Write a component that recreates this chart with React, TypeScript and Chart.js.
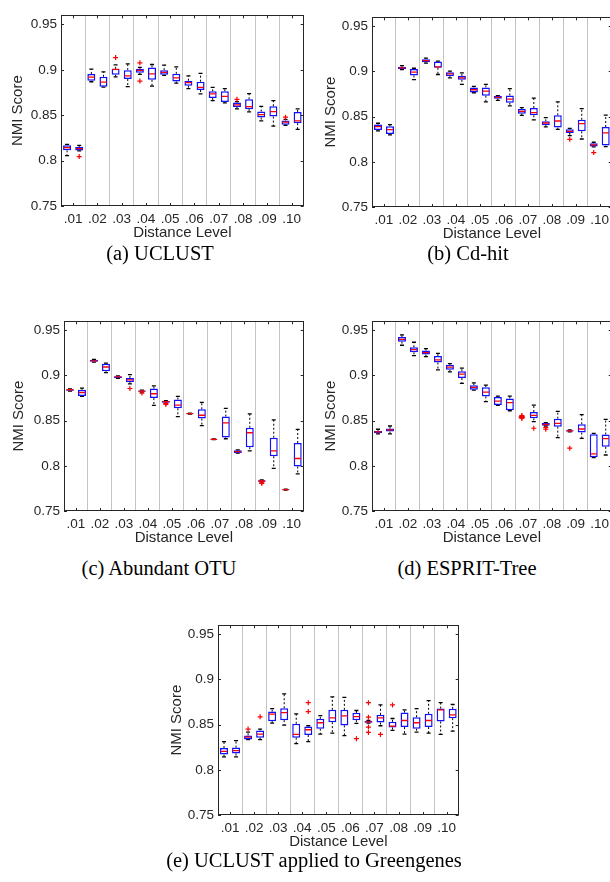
import React, { useEffect, useRef } from 'react';
import { Chart, registerables } from 'chart.js';

Chart.register(...registerables);

// ---------- data ----------
const distanceLevels = ['.01', '.02', '.03', '.04', '.05', '.06', '.07', '.08', '.09', '.10'];
const yTickValues = [0.75, 0.8, 0.85, 0.9, 0.95];
const yTickLabels = ['0.75', '0.8', '0.85', '0.9', '0.95'];

// each box: [min, q1, median, q3, max]; two boxes per distance level
const uclustBoxes = [
  [0.8055, 0.8113, 0.8142, 0.8168, 0.8179], [0.8106, 0.8110, 0.8131, 0.8150, 0.8168],
  [0.8868, 0.8879, 0.8920, 0.8953, 0.9007], [0.8810, 0.8814, 0.8865, 0.8923, 0.8978],
  [0.8923, 0.8945, 0.9004, 0.9011, 0.9055], [0.8814, 0.8898, 0.8934, 0.8996, 0.9066],
  [0.8949, 0.8967, 0.8993, 0.9011, 0.9026], [0.8821, 0.8890, 0.8956, 0.9026, 0.9058],
  [0.8938, 0.8945, 0.8971, 0.8996, 0.9051], [0.8853, 0.8872, 0.8912, 0.8956, 0.9033],
  [0.8792, 0.8825, 0.8858, 0.8880, 0.8934], [0.8734, 0.8777, 0.8807, 0.8869, 0.8960],
  [0.8661, 0.8690, 0.8734, 0.8763, 0.8807], [0.8635, 0.8646, 0.8708, 0.8763, 0.8792],
  [0.8569, 0.8591, 0.8613, 0.8639, 0.8650], [0.8537, 0.8566, 0.8595, 0.8675, 0.8737],
  [0.8438, 0.8474, 0.8507, 0.8540, 0.8598], [0.8379, 0.8485, 0.8540, 0.8598, 0.8661],
  [0.8389, 0.8396, 0.8423, 0.8442, 0.8453], [0.8343, 0.8412, 0.8438, 0.8536, 0.8569],
];
// [box position (1-20), value]
const uclustOutliers = [[2, 0.8044], [5, 0.9135], [7, 0.9077], [7, 0.8876], [15, 0.8675], [19, 0.8478]];

const cdhitBoxes = [
  [0.8342, 0.8353, 0.8390, 0.8412, 0.8427], [0.8298, 0.8309, 0.8357, 0.8394, 0.8412],
  [0.9022, 0.9026, 0.9040, 0.9052, 0.9066], [0.8909, 0.8956, 0.8993, 0.9029, 0.9036],
  [0.9092, 0.9103, 0.9121, 0.9136, 0.9147], [0.8967, 0.9041, 0.9052, 0.9110, 0.9114],
  [0.8930, 0.8948, 0.8974, 0.8993, 0.9004], [0.8857, 0.8908, 0.8930, 0.8952, 0.8985],
  [0.8765, 0.8768, 0.8798, 0.8824, 0.8835], [0.8663, 0.8732, 0.8783, 0.8824, 0.8857],
  [0.8680, 0.8699, 0.8713, 0.8728, 0.8732], [0.8620, 0.8654, 0.8695, 0.8735, 0.8810],
  [0.8515, 0.8533, 0.8559, 0.8585, 0.8599], [0.8465, 0.8515, 0.8544, 0.8596, 0.8706],
  [0.8386, 0.8405, 0.8430, 0.8449, 0.8489], [0.8360, 0.8379, 0.8452, 0.8515, 0.8663],
  [0.8290, 0.8320, 0.8338, 0.8360, 0.8371], [0.8253, 0.8338, 0.8423, 0.8465, 0.8588],
  [0.8166, 0.8169, 0.8188, 0.8206, 0.8217], [0.8169, 0.8180, 0.8320, 0.8386, 0.8518],
];
const cdhitOutliers = [[17, 0.8249], [19, 0.8103]];

const abundantBoxes = [
  [0.8827, 0.8831, 0.8842, 0.8849, 0.8853], [0.8768, 0.8772, 0.8812, 0.8842, 0.8860],
  [0.9149, 0.9152, 0.9163, 0.9174, 0.9178], [0.9032, 0.9046, 0.9094, 0.9131, 0.9138],
  [0.8969, 0.8973, 0.8984, 0.8991, 0.8995], [0.8907, 0.8926, 0.8951, 0.8973, 0.9010],
  [0.8816, 0.8820, 0.8827, 0.8834, 0.8838], [0.8670, 0.8750, 0.8798, 0.8856, 0.8885],
  [0.8695, 0.8699, 0.8710, 0.8717, 0.8721], [0.8545, 0.8637, 0.8673, 0.8735, 0.8768],
  [0.8573, 0.8575, 0.8578, 0.8581, 0.8583], [0.8446, 0.8523, 0.8560, 0.8626, 0.8703],
  [0.8290, 0.8291, 0.8293, 0.8296, 0.8298], [0.8300, 0.8315, 0.8476, 0.8545, 0.8637],
  [0.8140, 0.8143, 0.8158, 0.8172, 0.8176], [0.8165, 0.8206, 0.8366, 0.8421, 0.8575],
  [0.7822, 0.7825, 0.7832, 0.7840, 0.7843], [0.7971, 0.8106, 0.8165, 0.8311, 0.8509],
  [0.7731, 0.7733, 0.7737, 0.7741, 0.7743], [0.7912, 0.7993, 0.8081, 0.8253, 0.8403],
];
const abundantOutliers = [[6, 0.8856], [7, 0.8805], [9, 0.8681], [9, 0.8688], [17, 0.7806], [17, 0.7812]];

const espritBoxes = [
  [0.8353, 0.8360, 0.8375, 0.8386, 0.8405], [0.8353, 0.8379, 0.8397, 0.8412, 0.8441],
  [0.9335, 0.9375, 0.9401, 0.9426, 0.9449], [0.9221, 0.9257, 0.9287, 0.9313, 0.9368],
  [0.9210, 0.9232, 0.9254, 0.9276, 0.9298], [0.9063, 0.9143, 0.9173, 0.9217, 0.9246],
  [0.9040, 0.9063, 0.9092, 0.9118, 0.9132], [0.8912, 0.8971, 0.9015, 0.9048, 0.9081],
  [0.8838, 0.8842, 0.8868, 0.8893, 0.8919], [0.8710, 0.8768, 0.8816, 0.8871, 0.8893],
  [0.8669, 0.8673, 0.8717, 0.8761, 0.8772], [0.8610, 0.8614, 0.8699, 0.8746, 0.8772],
  [0.8535, 0.8537, 0.8540, 0.8543, 0.8545], [0.8489, 0.8526, 0.8559, 0.8596, 0.8673],
  [0.8441, 0.8445, 0.8460, 0.8474, 0.8478], [0.8313, 0.8434, 0.8471, 0.8522, 0.8603],
  [0.8375, 0.8379, 0.8386, 0.8393, 0.8397], [0.8303, 0.8368, 0.8408, 0.8460, 0.8566],
  [0.8092, 0.8096, 0.8133, 0.8349, 0.8360], [0.8120, 0.8210, 0.8302, 0.8346, 0.8515],
];
const espritOutliers = [
  [13, 0.8556], [13, 0.8551], [13, 0.8527], [13, 0.8530], [14, 0.8416],
  [15, 0.8423], [15, 0.8405], [17, 0.8195],
];

const greengenesBoxes = [
  [0.8143, 0.8169, 0.8205, 0.8242, 0.8312], [0.8143, 0.8180, 0.8212, 0.8246, 0.8323],
  [0.8334, 0.8337, 0.8363, 0.8381, 0.8418], [0.8334, 0.8356, 0.8396, 0.8436, 0.8451],
  [0.8517, 0.8539, 0.8616, 0.8645, 0.8678], [0.8494, 0.8550, 0.8634, 0.8682, 0.8840],
  [0.8290, 0.8356, 0.8392, 0.8510, 0.8620], [0.8312, 0.8385, 0.8444, 0.8480, 0.8488],
  [0.8396, 0.8455, 0.8521, 0.8565, 0.8601], [0.8407, 0.8528, 0.8576, 0.8664, 0.8807],
  [0.8379, 0.8492, 0.8598, 0.8664, 0.8803], [0.8515, 0.8550, 0.8590, 0.8631, 0.8657],
  [0.8517, 0.8521, 0.8532, 0.8542, 0.8546], [0.8488, 0.8524, 0.8576, 0.8609, 0.8719],
  [0.8436, 0.8469, 0.8484, 0.8532, 0.8568], [0.8396, 0.8473, 0.8546, 0.8634, 0.8664],
  [0.8418, 0.8455, 0.8521, 0.8583, 0.8678], [0.8407, 0.8473, 0.8546, 0.8620, 0.8766],
  [0.8392, 0.8535, 0.8664, 0.8678, 0.8744], [0.8429, 0.8572, 0.8609, 0.8675, 0.8723],
];
const greengenesOutliers = [
  [3, 0.8451], [4, 0.8587], [8, 0.8744], [8, 0.8645], [12, 0.8345],
  [13, 0.8744], [13, 0.8583], [13, 0.8473], [13, 0.8414], [14, 0.8392], [15, 0.8719],
];

// ---------- layout / style ----------
const AXIS_W = 62;
const AXIS_H = 38;
const TEXT = '#262626';
const SANS = '"Liberation Sans", Arial, Helvetica, sans-serif';

const panels = [
  { boxes: uclustBoxes, outliers: uclustOutliers, caption: '(a) UCLUST', left: -1, top: 10, w: 310, h: 234, yPad: 10, capX: 160, capY: 253 },
  { boxes: cdhitBoxes, outliers: cdhitOutliers, caption: '(b) Cd-hit', left: 310, top: 12, w: 307, h: 233, yPad: 11.5, capX: 468, capY: 253 },
  { boxes: abundantBoxes, outliers: abundantOutliers, caption: '(c) Abundant OTU', left: 2, top: 316, w: 307, h: 233, yPad: 7.5, capX: 159, capY: 568 },
  { boxes: espritBoxes, outliers: espritOutliers, caption: '(d) ESPRIT-Tree', left: 310, top: 316, w: 307, h: 233, yPad: 11.5, capX: 467, capY: 568 },
  { boxes: greengenesBoxes, outliers: greengenesOutliers, caption: '(e) UCLUST applied to Greengenes', left: 156, top: 620, w: 308, h: 233, yPad: 12, capX: 314, capY: 860 },
];

const xTickValues: number[] = [];
for (let v = 1.5; v <= 19.5; v += 1) xTickValues.push(v);

const framePlugin = {
  id: 'frame',
  afterDatasetsDraw(chart: any) {
    const { ctx, chartArea } = chart;
    const { left, top, right, bottom } = chartArea;
    const xs = chart.scales.x;
    const ys = chart.scales.y;
    ctx.save();
    ctx.strokeStyle = TEXT;
    ctx.lineWidth = 1;
    ctx.beginPath();
    // inner tick marks
    yTickValues.forEach((v) => {
      const py = Math.round(ys.getPixelForValue(v)) + 0.5;
      ctx.moveTo(left, py); ctx.lineTo(left + 3, py);
      ctx.moveTo(right, py); ctx.lineTo(right - 3, py);
    });
    distanceLevels.forEach((_, k) => {
      const px = Math.round(xs.getPixelForValue(1.5 + 2 * k)) + 0.5;
      ctx.moveTo(px, bottom); ctx.lineTo(px, bottom - 3);
      ctx.moveTo(px, top); ctx.lineTo(px, top + 3);
    });
    ctx.stroke();
    ctx.strokeRect(Math.round(left) + 0.5, Math.round(top) + 0.5, Math.round(right - left) - 1, Math.round(bottom - top) - 1);
    ctx.restore();
  },
};

function zeroPad(s: any) {
  s.paddingLeft = 0;
  s.paddingRight = 0;
  s.paddingTop = 0;
  s.paddingBottom = 0;
}

function buildConfig(boxes: number[][], outliers: number[][], yPad: number): any {
  const boxData = boxes.map((b, i) => ({ x: i + 1, y: [b[1], b[3]] }));
  const medianData = boxes.map((b, i) => ({ x: i + 1, y: b[2] }));
  const capData = boxes.flatMap((b, i) => [{ x: i + 1, y: b[0] }, { x: i + 1, y: b[4] }]);
  const whiskerData = boxes.flatMap((b, i) => [
    { x: i + 1, y: b[3] }, { x: i + 1, y: b[4] }, { x: i + 1, y: null },
    { x: i + 1, y: b[1] }, { x: i + 1, y: b[0] }, { x: i + 1, y: null },
  ]);
  const outlierData = outliers.map(([p, v]) => ({ x: p, y: v }));

  return {
    type: 'scatter',
    data: {
      datasets: [
        { type: 'scatter', data: medianData, pointStyle: 'line', pointRadius: 3.2, borderColor: '#ff0000', borderWidth: 1.3, order: 0 },
        { type: 'scatter', data: outlierData, pointStyle: 'cross', pointRadius: 2.5, borderColor: '#ff0000', borderWidth: 1.2, order: 1 },
        { type: 'bar', data: boxData, barThickness: 8, borderWidth: 1.5, inflateAmount: 0, borderColor: '#1010ff', backgroundColor: '#ffffff', borderSkipped: false, order: 2 },
        { type: 'scatter', data: capData, pointStyle: 'line', pointRadius: 2, borderColor: '#000000', borderWidth: 1.3, order: 3 },
        { type: 'line', data: whiskerData, borderColor: '#000000', borderWidth: 1, borderDash: [2, 2], pointRadius: 0, spanGaps: false, fill: false, order: 4 },
      ],
    },
    options: {
      animation: false,
      responsive: false,
      events: [],
      layout: { padding: { top: 4, right: 4, left: 0, bottom: 0 } },
      plugins: { legend: { display: false }, tooltip: { enabled: false } },
      scales: {
        x: {
          type: 'linear',
          min: 0.5,
          max: 20.5,
          offset: false,
          afterBuildTicks: (s: any) => { s.ticks = xTickValues.map((v) => ({ value: v })); },
          afterFit: (s: any) => { s.height = AXIS_H; zeroPad(s); },
          ticks: {
            autoSkip: false,
            maxRotation: 0,
            padding: 5,
            color: TEXT,
            font: { family: SANS, size: 13.5 },
            callback: (v: number) => {
              const k = (v - 1.5) / 2;
              return Number.isInteger(k) ? distanceLevels[k] : '';
            },
          },
          grid: {
            offset: false,
            drawTicks: false,
            lineWidth: 1,
            color: (c: any) => {
              const v = c.tick ? c.tick.value : 0;
              return Number.isInteger((v - 2.5) / 2) ? '#c4c4c4' : 'rgba(0,0,0,0)';
            },
          },
          border: { display: false },
          title: { display: true, text: 'Distance Level', color: TEXT, font: { family: SANS, size: 15 }, padding: { top: 0, bottom: 1.7 } },
        },
        y: {
          type: 'linear',
          min: 0.75,
          max: 0.96,
          afterBuildTicks: (s: any) => { s.ticks = yTickValues.map((v) => ({ value: v })); },
          afterFit: (s: any) => { s.width = AXIS_W; zeroPad(s); },
          ticks: {
            padding: 4,
            color: TEXT,
            font: { family: SANS, size: 13.5 },
            callback: (v: number) => {
              const k = yTickValues.indexOf(v);
              return k >= 0 ? yTickLabels[k] : '';
            },
          },
          grid: { display: false, drawTicks: false },
          border: { display: false },
          title: { display: true, text: 'NMI Score', color: TEXT, font: { family: SANS, size: 15 }, padding: { top: yPad, bottom: 0 } },
        },
      },
    },
    plugins: [framePlugin],
  };
}

function BoxPanel({ p }: { p: any }) {
  const ref = useRef<HTMLCanvasElement | null>(null);
  useEffect(() => {
    if (!ref.current) return;
    const chart = new Chart(ref.current, buildConfig(p.boxes, p.outliers, p.yPad));
    return () => chart.destroy();
  }, [p]);
  return (
    <>
      <canvas
        ref={ref}
        width={p.w}
        height={p.h}
        style={{ position: 'absolute', left: p.left, top: p.top, width: p.w, height: p.h }}
      />
      <div
        style={{
          position: 'absolute',
          left: p.capX,
          top: p.capY - 12,
          transform: 'translateX(-50%)',
          whiteSpace: 'nowrap',
          fontFamily: '"Liberation Serif", "Times New Roman", serif',
          fontSize: 20.5,
          lineHeight: '24px',
          color: '#000',
        }}
      >
        {p.caption}
      </div>
    </>
  );
}

export default function App() {
  return (
    <div style={{ position: 'fixed', left: 0, top: 0, width: 610, height: 882, overflow: 'hidden', background: '#fff' }}>
      {panels.map((p, i) => <BoxPanel key={i} p={p} />)}
    </div>
  );
}
